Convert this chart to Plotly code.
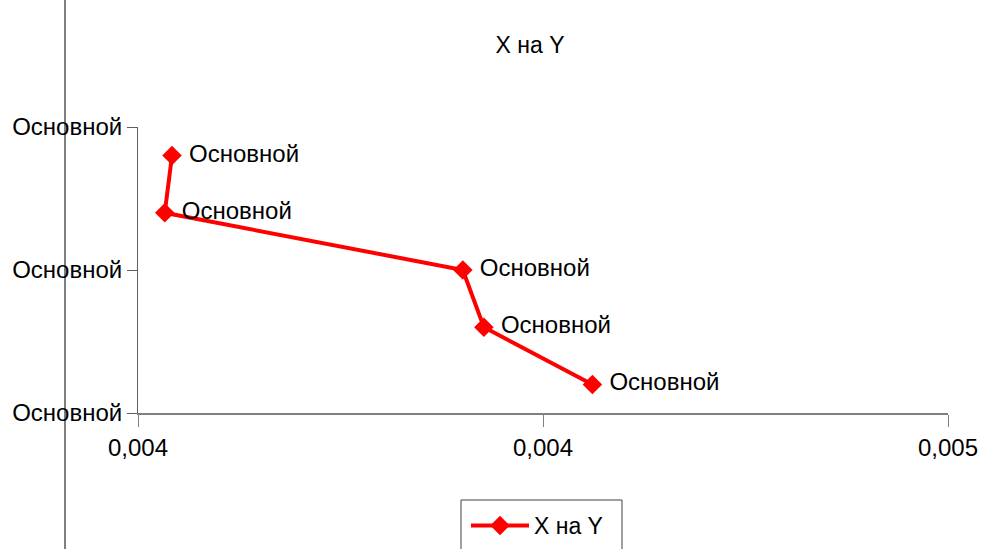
import plotly.graph_objects as go

# Series "X на Y"
x_vals = [0.003642, 0.003633, 0.004001, 0.004027, 0.004161]
y_vals = [1.8, 1.4, 1.0, 0.6, 0.2]
point_labels = ["Основной"] * 5

x_tickvals = [0.0036, 0.0041, 0.0046]
x_ticktext = ["0,004", "0,004", "0,005"]
y_tickvals = [0, 1, 2]
y_ticktext = ["Основной", "Основной", "Основной"]

series_name = "X на Y"
title_text = "X на Y"

FONT = "Liberation Sans, Arial, sans-serif"
W, H = 993, 549
L, R, T, B = 138, 45, 127, 136
PW, PH = W - L - R, H - T - B


def px_x(px):
    return (px - L) / PW


def px_y(py):
    return (H - B - py) / PH


fig = go.Figure()
fig.add_trace(go.Scatter(
    x=x_vals, y=y_vals,
    mode="lines+markers+text",
    name=series_name,
    text=[" " + s for s in point_labels],
    textposition="middle right",
    textfont=dict(family=FONT, size=24, color="black"),
    line=dict(color="#FF0000", width=4),
    marker=dict(symbol="diamond", size=15, color="#FF0000"),
    cliponaxis=False,
))

shapes = [
    # chart area left border
    dict(type="line", xref="paper", yref="paper",
         x0=px_x(65), x1=px_x(65), y0=px_y(-5), y1=px_y(560),
         line=dict(color="black", width=1)),
    # legend frame
    dict(type="rect", xref="paper", yref="paper",
         x0=px_x(461), x1=px_x(622), y0=px_y(500), y1=px_y(560),
         line=dict(color="#404040", width=1), fillcolor="rgba(0,0,0,0)"),
]

fig.update_layout(
    width=W, height=H,
    margin=dict(l=L, r=R, t=T, b=B, autoexpand=False),
    paper_bgcolor="white", plot_bgcolor="white",
    font=dict(family=FONT, size=24, color="black"),
    title=dict(text=title_text, xref="paper", x=px_x(530), xanchor="center",
               yref="container", y=1 - 45 / H, yanchor="middle",
               font=dict(family=FONT, size=23, color="black")),
    xaxis=dict(range=[0.0036, 0.0046], tickvals=x_tickvals, ticktext=x_ticktext,
               showgrid=False, zeroline=False, showline=True, linecolor="#808080",
               linewidth=2, ticks="outside", ticklen=12, tickcolor="#808080",
               tickwidth=1, tickfont=dict(family=FONT, size=24, color="black")),
    yaxis=dict(range=[0, 2], tickvals=y_tickvals, ticktext=y_ticktext,
               showgrid=False, zeroline=False, showline=True, linecolor="#606060",
               linewidth=1, ticks="outside", ticklen=10, tickcolor="#606060",
               tickwidth=1, tickfont=dict(family=FONT, size=24, color="black")),
    showlegend=True,
    legend=dict(x=px_x(466), y=px_y(504), xanchor="left", yanchor="top",
                bgcolor="rgba(0,0,0,0)", borderwidth=0,
                font=dict(family=FONT, size=23, color="black"),
                itemwidth=58),
    shapes=shapes,
)

fig.write_html("out.html")
